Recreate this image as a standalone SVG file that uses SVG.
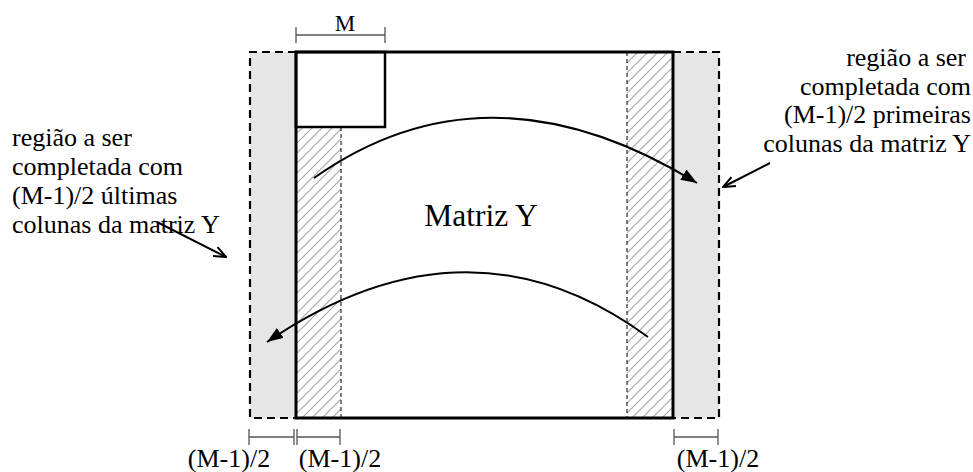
<svg xmlns="http://www.w3.org/2000/svg" width="973" height="472" viewBox="0 0 973 472">
<style>
.t{font-family:"Liberation Serif","Times New Roman",serif;font-size:26px;fill:#000}
.dash{fill:none;stroke:#000;stroke-width:2.2;stroke-dasharray:8,5}
.thin{fill:none;stroke:#000;stroke-width:1;stroke-dasharray:4,3}
.brk{fill:none;stroke:#555;stroke-width:1.3}
.arc{fill:none;stroke:#000;stroke-width:2}
</style>
<defs>
<pattern id="hatch" patternUnits="userSpaceOnUse" width="10" height="10">
<path d="M-1,1 L1,-1 M0,10 L10,0 M9,11 L11,9" stroke="#a8a8a8" stroke-width="1.2"/>
</pattern>
<marker id="tri" viewBox="0 0 16 12" refX="16" refY="6" markerWidth="16" markerHeight="12" markerUnits="userSpaceOnUse" orient="auto">
<path d="M0,0 L16,6 L0,12 Z" fill="#000"/>
</marker>
<marker id="vee" viewBox="0 0 14 12" refX="13" refY="6" markerWidth="14" markerHeight="12" markerUnits="userSpaceOnUse" orient="auto">
<path d="M1,1 L13,6 L1,11" fill="none" stroke="#000" stroke-width="2"/>
</marker>
</defs>
<g id="left-gray">
<rect x="250" y="52" width="46" height="366" fill="#e6e6e6"/>
<path class="dash" d="M296,52 H250 V418 H296"/>
</g>
<g id="right-gray">
<rect x="673" y="52" width="46" height="366" fill="#e6e6e6"/>
<path class="dash" d="M673,52 H719 V418 H673"/>
</g>
<g id="left-hatch">
<rect x="296" y="127" width="45" height="291" fill="url(#hatch)"/>
<line class="thin" x1="341" y1="127" x2="341" y2="418"/>
</g>
<g id="right-hatch">
<rect x="627" y="52" width="46" height="366" fill="url(#hatch)"/>
<line class="thin" x1="627" y1="52" x2="627" y2="418"/>
</g>
<g id="matriz">
<rect x="296" y="52" width="377" height="366" fill="none" stroke="#000" stroke-width="3"/>
<text class="t" x="481" y="226" text-anchor="middle" style="font-size:31.5px">Matriz Y</text>
</g>
<g id="window">
<rect x="296" y="52" width="89" height="75" fill="none" stroke="#000" stroke-width="2.5"/>
</g>
<g id="dim-M">
<path class="brk" d="M296,35 H385 M296,27 V43 M385,27 V43"/>
<text class="t" x="345" y="31" text-anchor="middle" style="font-size:23px">M</text>
</g>
<g id="dim-bottom">
<path class="brk" d="M249,437 H294 M249,429 V445 M294,429 V445"/>
<path class="brk" d="M297,437 H340 M297,429 V445 M340,429 V445"/>
<path class="brk" d="M674,437 H718 M674,429 V445 M718,429 V445"/>
<text class="t" x="229" y="467" text-anchor="middle">(M-1)/2</text>
<text class="t" x="340" y="467" text-anchor="middle">(M-1)/2</text>
<text class="t" x="718" y="467" text-anchor="middle">(M-1)/2</text>
</g>
<g id="label-left">
<text class="t" x="12" y="146">região a ser</text>
<text class="t" x="12" y="175">completada com</text>
<text class="t" x="12" y="204">(M-1)/2 últimas</text>
<text class="t" x="12" y="233">colunas da matriz Y</text>
</g>
<g id="label-right">
<text class="t" x="966" y="66" text-anchor="end">região a ser</text>
<text class="t" x="971" y="95" text-anchor="end">completada com</text>
<text class="t" x="971" y="123" text-anchor="end">(M-1)/2 primeiras</text>
<text class="t" x="971" y="152" text-anchor="end">colunas da matriz Y</text>
</g>
<g id="connectors">
<path class="arc" d="M314,178 Q488,55 697,183" marker-end="url(#tri)"/>
<path class="arc" d="M648,337 Q468,205 267,342" marker-end="url(#tri)"/>
<path class="arc" d="M770,163 L723,187" marker-end="url(#vee)"/>
<path class="arc" d="M157,222 L226,257" marker-end="url(#vee)"/>
</g>
</svg>
